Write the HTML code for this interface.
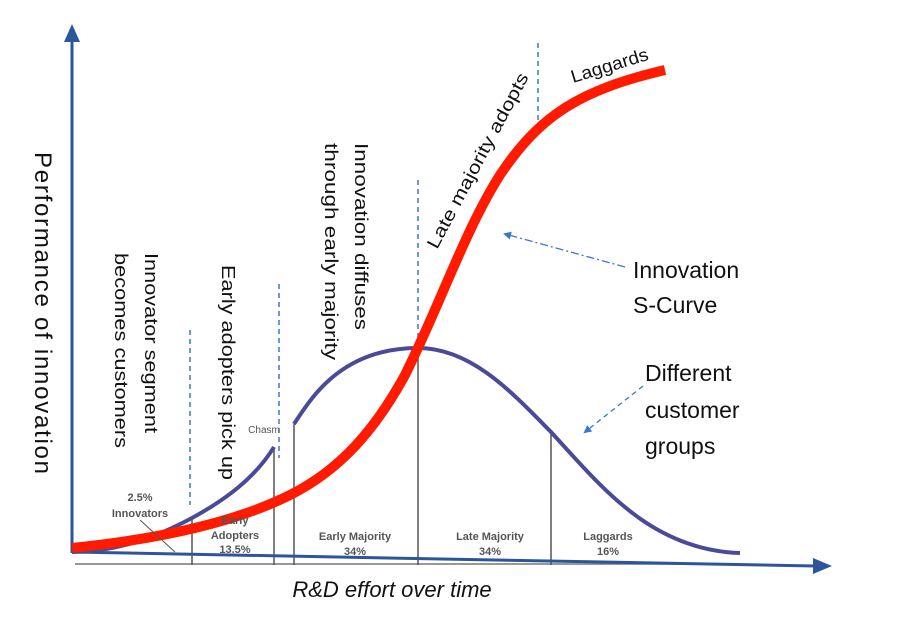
<!DOCTYPE html>
<html><head><meta charset="utf-8"><style>
html,body{margin:0;padding:0;background:#fff;}
svg{display:block;}
text{font-family:"Liberation Sans",sans-serif;}
</style></head><body>
<svg width="904" height="632" viewBox="0 0 904 632" xmlns="http://www.w3.org/2000/svg">
<defs>
<marker id="ah" markerWidth="8" markerHeight="8" refX="6" refY="4" orient="auto" markerUnits="userSpaceOnUse"><path d="M0,0 L8,4 L0,8 Z" fill="#3a78d0"/></marker>
</defs>
<!-- baseline gray -->
<line x1="75" y1="564" x2="740" y2="564" stroke="#777" stroke-width="1.5"/>
<!-- vertical segment lines -->
<g stroke="#555" stroke-width="1.5">
<line x1="192" y1="518" x2="192" y2="565"/>
<line x1="274" y1="447" x2="274" y2="565"/>
<line x1="294" y1="424" x2="294" y2="565"/>
<line x1="418" y1="348" x2="418" y2="565"/>
<line x1="551" y1="432" x2="551" y2="565"/>
</g>
<!-- bell curve -->
<path d="M72,552 C120,552 160,535 192,518 C225,500 255,478 274,447" fill="none" stroke="#4a4a98" stroke-width="4"/>
<path d="M294,424 C310,400 340,348 418,348 C470,348 510,390 551,432 C600,485 650,550 740,553" fill="none" stroke="#4a4a98" stroke-width="4"/>
<!-- axes -->
<line x1="72" y1="553" x2="72" y2="40" stroke="#2d559a" stroke-width="3"/>
<path d="M64,42 L72,24 L80,42 Z" fill="#2d559a"/>
<line x1="72" y1="552" x2="815" y2="566" stroke="#2d559a" stroke-width="3"/>
<path d="M813,558 L832,566 L813,574 Z" fill="#2d559a"/>
<!-- dashed verticals -->
<g stroke="#3a78d0" stroke-width="1.5" stroke-dasharray="5,4">
<line x1="190" y1="330" x2="190" y2="505"/>
<line x1="279" y1="284" x2="279" y2="458"/>
<line x1="418" y1="180" x2="418" y2="345"/>
<line x1="538" y1="43" x2="538" y2="122"/>
</g>
<!-- red S-curve -->
<path d="M72,548 C150,540 230,525 290,495 C340,470 375,430 405,375 C440,305 465,230 500,175 C540,115 580,90 665,70" fill="none" stroke="#ff1a00" stroke-width="10"/>
<!-- arrows -->
<line x1="625" y1="267" x2="505" y2="234" stroke="#3a78d0" stroke-width="1.3" stroke-dasharray="8,3,2,3" marker-end="url(#ah)"/>
<line x1="643" y1="386" x2="585" y2="432" stroke="#3a78d0" stroke-width="1.3" stroke-dasharray="5,4" marker-end="url(#ah)"/>
<!-- small labels -->
<g font-size="11" font-weight="bold" fill="#555" text-anchor="middle">
<text x="140" y="501">2.5%</text>
<text x="140" y="517">Innovators</text>
<text x="235" y="524">Early</text>
<text x="235" y="539">Adopters</text>
<text x="235" y="553">13.5%</text>
<text x="355" y="540">Early Majority</text>
<text x="355" y="555">34%</text>
<text x="490" y="540">Late Majority</text>
<text x="490" y="555">34%</text>
<text x="608" y="540">Laggards</text>
<text x="608" y="555">16%</text>
<text x="264" y="433" font-size="10" font-weight="normal">Chasm</text>
</g>
<line x1="140" y1="520" x2="175" y2="552" stroke="#555" stroke-width="1"/>
<!-- rotated texts -->
<text transform="translate(35,152) rotate(90)" font-size="24" fill="#111" textLength="322">Performance of innovation</text>
<text transform="translate(145,253) rotate(90)" font-size="18" fill="#111" textLength="180" lengthAdjust="spacingAndGlyphs">Innovator segment</text>
<text transform="translate(115,253) rotate(90)" font-size="18" fill="#111" textLength="195" lengthAdjust="spacingAndGlyphs">becomes customers</text>
<text transform="translate(222,265) rotate(90)" font-size="18" fill="#111" textLength="215" lengthAdjust="spacingAndGlyphs">Early adopters pick up</text>
<text transform="translate(355,143) rotate(90)" font-size="18" fill="#111" textLength="187" lengthAdjust="spacingAndGlyphs">Innovation diffuses</text>
<text transform="translate(325,143) rotate(90)" font-size="18" fill="#111" textLength="217" lengthAdjust="spacingAndGlyphs">through early majority</text>
<text transform="translate(437,250) rotate(-62)" font-size="18" fill="#111" textLength="196" lengthAdjust="spacingAndGlyphs">Late majority  adopts</text>
<text transform="translate(573,83) rotate(-17)" font-size="18" fill="#111" textLength="80" lengthAdjust="spacingAndGlyphs">Laggards</text>
<g font-size="23" fill="#111">
<text x="633" y="278">Innovation</text>
<text x="633" y="313">S-Curve</text>
<text x="645" y="381">Different</text>
<text x="645" y="418">customer</text>
<text x="645" y="454">groups</text>
</g>
<text x="392" y="597" font-size="22" font-style="italic" fill="#111" text-anchor="middle">R&amp;D effort over time</text>
</svg>
</body></html>
